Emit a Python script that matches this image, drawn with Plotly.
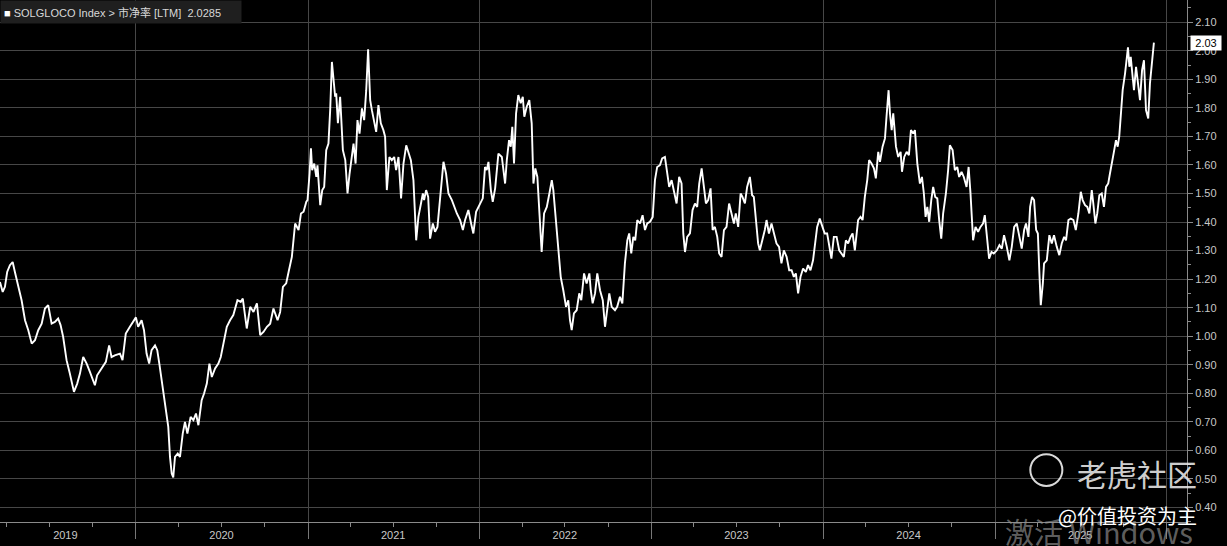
import pandas as pd
import plotly.graph_objects as go

# SOLGLOCO Index - P/B (LTM).
# Time is stored as (year, fraction of year) per calendar year.
frac_2019 = [.208, .224, .237, .250, .266, .282, .295, .315, .334, .354,
             .373, .393, .412, .431, .451, .470, .489, .509, .528, .547,
             .561, .576, .596, .615, .639, .658, .674, .693, .713, .732,
             .761, .774, .800, .825, .844, .858, .877, .907, .922, .941,
             .965, .984]
pbr_2019 = [1.190, 1.155, 1.173, 1.225, 1.249, 1.260, 1.225, 1.173, 1.126, 1.056,
            1.021, 0.974, 0.986, 1.021, 1.044, 1.097, 1.109, 1.044, 1.050, 1.062,
            1.039, 0.998, 0.916, 0.869, 0.805, 0.834, 0.869, 0.927, 0.904, 0.875,
            0.828, 0.863, 0.887, 0.910, 0.968, 0.927, 0.933, 0.939, 0.916, 1.009,
            1.033, 1.050]

frac_2020 = [.000, .013, .033, .047, .062, .077, .091, .111, .124, .136,
             .155, .175, .188, .198, .208, .217, .227, .243, .256, .272,
             .285, .299, .318, .334, .349, .363, .382, .396, .412, .427,
             .441, .460, .479, .493, .508, .528, .547, .566, .590, .609,
             .621, .644, .664, .683, .703, .722, .741, .761, .780, .799,
             .823, .838, .854, .873, .887, .906, .925, .945, .959, .974,
             .990, .997]
pbr_2020 = [1.066, 1.033, 1.056, 1.021, 0.939, 0.904, 0.951, 0.968, 0.951, 0.904,
            0.822, 0.752, 0.682, 0.577, 0.519, 0.505, 0.577, 0.589, 0.577, 0.659,
            0.700, 0.659, 0.717, 0.706, 0.729, 0.688, 0.776, 0.799, 0.834, 0.904,
            0.857, 0.887, 0.904, 0.927, 0.974, 1.033, 1.056, 1.074, 1.126, 1.120,
            1.132, 1.027, 1.103, 1.085, 1.115, 1.004, 1.015, 1.033, 1.044, 1.097,
            1.056, 1.085, 1.173, 1.185, 1.225, 1.278, 1.395, 1.372, 1.430, 1.436,
            1.471, 1.477]

frac_2021 = [.009, .017, .024, .036, .048, .055, .071, .083, .094, .106,
             .119, .129, .139, .149, .158, .164, .174, .187, .193, .203,
             .217, .230, .242, .256, .265, .277, .288, .300, .314, .327,
             .339, .350, .362, .372, .385, .397, .410, .424, .439, .449,
             .459, .474, .488, .502, .513, .527, .542, .556, .572, .585,
             .599, .614, .630, .643, .657, .669, .676, .688, .700, .711,
             .727, .740, .754, .769, .789, .804, .818, .838, .851, .867,
             .886, .902, .915, .934, .950, .963, .979, .998]
pbr_2021 = [1.570, 1.658, 1.582, 1.605, 1.558, 1.599, 1.459, 1.512, 1.523, 1.652,
            1.675, 1.792, 1.961, 1.897, 1.839, 1.851, 1.746, 1.839, 1.757, 1.652,
            1.617, 1.500, 1.570, 1.628, 1.675, 1.605, 1.757, 1.710, 1.798, 1.757,
            1.862, 2.005, 1.827, 1.792, 1.746, 1.716, 1.810, 1.746, 1.722, 1.699,
            1.512, 1.628, 1.617, 1.628, 1.582, 1.628, 1.483, 1.605, 1.669, 1.640,
            1.617, 1.547, 1.336, 1.418, 1.465, 1.500, 1.477, 1.512, 1.488, 1.342,
            1.395, 1.366, 1.383, 1.477, 1.611, 1.570, 1.500, 1.477, 1.453, 1.430,
            1.407, 1.372, 1.407, 1.442, 1.395, 1.360, 1.436, 1.459]

frac_2022 = [.002, .018, .031, .041, .051, .065, .076, .090, .109, .129,
             .148, .158, .171, .181, .190, .200, .212, .225, .239, .251,
             .260, .274, .289, .303, .313, .324, .336, .352, .361, .375,
             .391, .406, .420, .429, .441, .458, .472, .487, .503, .516,
             .526, .536, .549, .565, .580, .592, .608, .623, .639, .647,
             .658, .672, .685, .701, .717, .730, .743, .755, .769, .788,
             .801, .817, .831, .846, .860, .871, .883, .895, .906, .918,
             .934, .949, .963, .976, .992]
pbr_2022 = [1.459, 1.483, 1.593, 1.582, 1.611, 1.512, 1.471, 1.518, 1.640, 1.628,
            1.535, 1.617, 1.687, 1.664, 1.734, 1.605, 1.781, 1.845, 1.816, 1.839,
            1.769, 1.804, 1.827, 1.746, 1.535, 1.588, 1.558, 1.372, 1.295, 1.430,
            1.453, 1.500, 1.547, 1.512, 1.430, 1.301, 1.208, 1.161, 1.103, 1.126,
            1.056, 1.021, 1.080, 1.091, 1.150, 1.126, 1.220, 1.185, 1.220, 1.161,
            1.115, 1.150, 1.220, 1.161, 1.126, 1.033, 1.091, 1.150, 1.103, 1.091,
            1.103, 1.138, 1.115, 1.255, 1.336, 1.360, 1.290, 1.348, 1.336, 1.407,
            1.395, 1.424, 1.372, 1.395, 1.401]

frac_2023 = [.008, .021, .034, .050, .063, .079, .093, .104, .118, .132,
             .147, .162, .176, .186, .196, .209, .225, .240, .254, .267,
             .279, .293, .306, .318, .331, .345, .357, .370, .384, .395,
             .409, .423, .438, .453, .467, .481, .492, .506, .520, .531,
             .545, .558, .574, .587, .597, .609, .622, .632, .648, .661,
             .671, .685, .700, .714, .729, .744, .758, .772, .788, .803,
             .817, .830, .842, .855, .869, .884, .900, .913, .927, .942,
             .954, .966, .981, .997]
pbr_2023 = [1.418, 1.547, 1.593, 1.599, 1.623, 1.628, 1.570, 1.523, 1.547, 1.512,
            1.465, 1.558, 1.535, 1.360, 1.295, 1.348, 1.360, 1.442, 1.465, 1.453,
            1.535, 1.588, 1.523, 1.465, 1.477, 1.518, 1.372, 1.383, 1.348, 1.290,
            1.278, 1.372, 1.383, 1.465, 1.430, 1.395, 1.430, 1.383, 1.500, 1.488,
            1.465, 1.523, 1.558, 1.494, 1.488, 1.407, 1.325, 1.301, 1.336, 1.372,
            1.407, 1.360, 1.395, 1.360, 1.325, 1.313, 1.255, 1.301, 1.278, 1.231,
            1.231, 1.208, 1.220, 1.150, 1.208, 1.237, 1.225, 1.249, 1.231, 1.266,
            1.325, 1.383, 1.412, 1.383]

frac_2024 = [.010, .024, .036, .049, .063, .079, .094, .108, .121, .133,
             .146, .160, .172, .185, .195, .204, .218, .230, .243, .257,
             .268, .282, .296, .307, .321, .331, .346, .360, .369, .381,
             .389, .399, .408, .424, .437, .451, .459, .472, .486, .499,
             .511, .524, .534, .548, .563, .575, .586, .596, .606, .617,
             .629, .640, .652, .664, .675, .687, .698, .714, .727, .737,
             .753, .766, .780, .791, .805, .818, .834, .846, .857, .872,
             .886, .901, .915, .930, .940, .953, .965, .979, .992]
pbr_2024 = [1.360, 1.360, 1.313, 1.272, 1.348, 1.348, 1.301, 1.290, 1.278, 1.336,
            1.325, 1.348, 1.360, 1.301, 1.372, 1.407, 1.418, 1.407, 1.488, 1.547,
            1.617, 1.605, 1.588, 1.553, 1.646, 1.611, 1.664, 1.693, 1.769, 1.862,
            1.781, 1.722, 1.781, 1.664, 1.628, 1.646, 1.576, 1.628, 1.646, 1.634,
            1.722, 1.710, 1.722, 1.605, 1.535, 1.558, 1.500, 1.418, 1.453, 1.401,
            1.477, 1.523, 1.488, 1.483, 1.407, 1.342, 1.430, 1.500, 1.582, 1.669,
            1.652, 1.582, 1.593, 1.558, 1.576, 1.558, 1.523, 1.593, 1.500, 1.336,
            1.383, 1.366, 1.383, 1.395, 1.424, 1.348, 1.272, 1.295, 1.290]

frac_2025 = [.010, .025, .039, .052, .068, .083, .097, .111, .126, .141,
             .155, .169, .180, .194, .204, .215, .227, .239, .249, .258,
             .266, .278, .285, .301, .316, .330, .343, .359, .374, .388,
             .402, .413, .427, .441, .456, .470, .485, .499, .510, .524,
             .537, .549, .563, .572, .584, .595, .607, .621, .634, .646,
             .659, .669, .681, .692, .704, .714, .723, .733, .743, .757,
             .766, .774, .782, .790, .801, .809, .821, .832, .844, .856,
             .867, .879, .892, .902, .914, .925]
pbr_2025 = [1.301, 1.319, 1.307, 1.354, 1.313, 1.266, 1.313, 1.383, 1.395, 1.348,
            1.307, 1.372, 1.395, 1.348, 1.453, 1.488, 1.477, 1.372, 1.360, 1.220,
            1.109, 1.185, 1.255, 1.266, 1.354, 1.325, 1.354, 1.313, 1.284, 1.325,
            1.348, 1.336, 1.407, 1.412, 1.407, 1.372, 1.430, 1.506, 1.477, 1.459,
            1.453, 1.430, 1.512, 1.465, 1.395, 1.430, 1.494, 1.500, 1.453, 1.523,
            1.535, 1.570, 1.605, 1.646, 1.687, 1.664, 1.699, 1.792, 1.862, 1.921,
            1.967, 2.012, 1.944, 1.979, 1.909, 1.862, 1.944, 1.897, 1.827, 1.932,
            1.967, 1.792, 1.763, 1.886, 1.956, 2.0285]

years = [2019, 2020, 2021, 2022, 2023, 2024, 2025]
year_labels = ["2019", "2020", "2021", "2022", "2023", "2024", "2025"]
label_dates = ["2019-08-04", "2020-07-01", "2021-07-01", "2022-07-01",
               "2023-07-01", "2024-07-01", "2025-07-01"]
last_value = 2.0285
header_text = "SOLGLOCO Index > 市净率 [LTM]"

x_start = "2019-03-18"
x_end = "2026-02-13"


def to_date(year, frac):
    start = pd.Timestamp(year, 1, 1)
    days = (pd.Timestamp(year + 1, 1, 1) - start).days
    return start + pd.Timedelta(days=frac * days)


fracs = [frac_2019, frac_2020, frac_2021, frac_2022, frac_2023, frac_2024, frac_2025]
vals = [pbr_2019, pbr_2020, pbr_2021, pbr_2022, pbr_2023, pbr_2024, pbr_2025]

dates, pbr = [], []
for yr, fr, vv in zip(years, fracs, vals):
    assert len(fr) == len(vv), yr
    dates += [to_date(yr, f) for f in fr]
    pbr += vv

GRID = "#474747"
AXIS = "#8a8a8a"
TICKTXT = "#c8c8c8"
FONT = "Liberation Sans Narrow, Arial Narrow, Liberation Sans, Noto Sans CJK SC, sans-serif"

fig = go.Figure()

fig.add_trace(go.Scatter(
    x=dates, y=pbr,
    mode="lines",
    line=dict(color="#ffffff", width=1.9),
    showlegend=False,
    hoverinfo="x+y"
))

# invisible trace so the label axis gets drawn
fig.add_trace(go.Scatter(
    x=[x_start, x_end], y=[None, None],
    xaxis="x2", showlegend=False, hoverinfo="skip"
))

fig.update_layout(
    width=1227,
    height=546,
    margin=dict(l=0, r=40, t=0, b=24),
    paper_bgcolor="#000000",
    plot_bgcolor="#000000",
    font=dict(family=FONT, color=TICKTXT, size=11),
    xaxis=dict(
        type="date",
        range=[x_start, x_end],
        tick0="2019-01-01",
        dtick="M12",
        showticklabels=False,
        ticks="outside",
        ticklen=16,
        tickcolor="#777777",
        showgrid=True,
        gridcolor=GRID,
        gridwidth=1,
        showline=True,
        linecolor=AXIS,
        linewidth=1,
        zeroline=False,
        minor=dict(dtick="M3", tick0="2019-01-01", ticks="outside",
                   ticklen=4, tickcolor=AXIS, showgrid=False),
    ),
    xaxis2=dict(
        type="date",
        overlaying="x",
        anchor="y",
        side="bottom",
        range=[x_start, x_end],
        tickmode="array",
        tickvals=label_dates,
        ticktext=year_labels,
        ticks="outside",
        ticklen=3,
        tickcolor="rgba(0,0,0,0)",
        showgrid=False,
        showline=False,
        zeroline=False,
        tickfont=dict(size=11, color=TICKTXT),
    ),
    yaxis=dict(
        side="right",
        range=[0.349, 2.178],
        tick0=0,
        dtick=0.1,
        tickformat=".2f",
        ticks="outside",
        ticklen=5,
        tickcolor=AXIS,
        showgrid=True,
        gridcolor=GRID,
        gridwidth=1,
        showline=True,
        linecolor=AXIS,
        linewidth=1,
        zeroline=False,
        tickfont=dict(size=11, color=TICKTXT),
        minor=dict(dtick=0.05, ticks="outside", ticklen=3,
                   tickcolor=AXIS, showgrid=False),
    ),
)

# Bloomberg-style header tag
fig.add_annotation(
    xref="paper", yref="paper", x=0, y=1,
    xanchor="left", yanchor="top",
    text="<span style='color:#ffffff'>■</span> " + header_text + "  " + f"{last_value:.4f}",
    showarrow=False, align="left",
    bgcolor="#1f1f1f", borderpad=3,
    width=234, height=16,
    font=dict(size=11, color="#d8d8d8", family=FONT),
)

# last value tag on the right axis
fig.add_annotation(
    xref="paper", yref="y", x=1, y=last_value,
    xanchor="left", yanchor="middle", xshift=3,
    text=f"{last_value:.2f}",
    showarrow=False,
    bgcolor="#ffffff", borderpad=1,
    width=28,
    font=dict(size=11, color="#000000", family=FONT),
)

# watermarks on the source image
fig.add_shape(type="circle", xref="paper", yref="paper",
              x0=0.868, x1=0.895, y0=0.069, y1=0.130,
              line=dict(color="rgba(255,255,255,0.85)", width=2))
fig.add_annotation(
    xref="paper", yref="paper", x=0.958, y=0.094,
    xanchor="center", yanchor="middle", showarrow=False,
    text="老虎社区",
    font=dict(size=30, color="rgba(235,235,235,0.9)", family="Noto Sans CJK SC"),
)
fig.add_annotation(
    xref="paper", yref="paper", x=0.926, y=-0.018,
    xanchor="center", yanchor="middle", showarrow=False,
    text="激活 Windows",
    font=dict(size=29, color="rgba(150,150,150,0.65)", family="Noto Sans CJK SC"),
)
fig.add_annotation(
    xref="paper", yref="paper", x=0.950, y=0.012,
    xanchor="center", yanchor="middle", showarrow=False,
    text="@价值投资为主",
    font=dict(size=20, color="#ffffff", family="Noto Sans CJK SC"),
)

# drop the default page margin so the figure sits at the top-left corner
fig.write_html(
    "out.html",
    config={"displayModeBar": False},
    post_script="document.body.style.margin='0';document.body.style.background='#000';"
)
